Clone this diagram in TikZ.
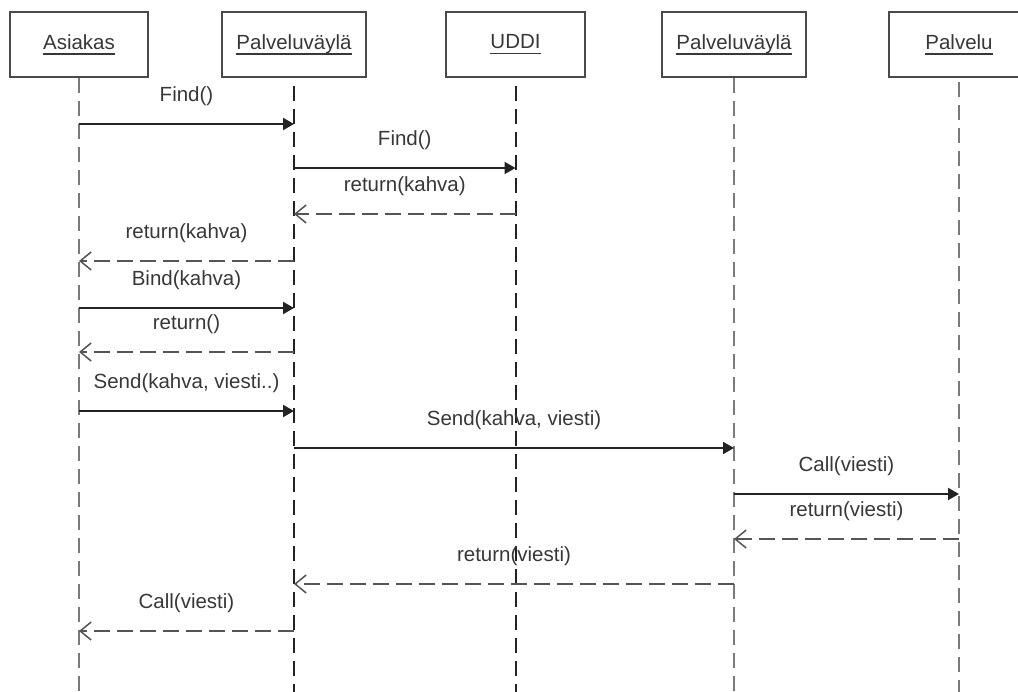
\documentclass[tikz,border=0pt]{standalone}
\usepackage{fontspec}
\setmainfont{Liberation Sans}
\usetikzlibrary{arrows.meta}
\definecolor{ink}{HTML}{383838}
\definecolor{frame}{HTML}{4A4A4A}
\definecolor{lifegrey}{HTML}{7A7A7A}
\definecolor{lifedark}{HTML}{222222}
\definecolor{retgrey}{HTML}{555555}
% underlined participant name: a rule a little below the baseline
\newcommand\ulname[1]{\setbox0\hbox{#1}\rlap{\vrule height -4pt depth 5.6pt width \wd0}\box0}
\begin{document}
\begin{tikzpicture}[x=1pt,y=-1pt,
  font=\fontsize{20.5}{24}\selectfont,
  actor/.style={draw=frame, line width=2pt, fill=white, minimum height=65pt,
    inner sep=0pt, text=ink},
  life/.style={line width=2pt, dash pattern=on 15pt off 8pt},
  call/.style={line width=2.1pt, draw=lifedark,
    -{Triangle[length=11pt,width=12pt]}},
  reply/.style={line width=2.1pt, draw=retgrey, dash pattern=on 16pt off 7pt,
    -{Straight Barb[length=11pt,width=18pt,line width=1.5pt]}},
  lbl/.style={midway, yshift=28pt, text=ink, inner sep=0pt}]
\useasboundingbox (0,0) rectangle (1018,692);
\clip (0,0) rectangle (1018,692);
\fill[white] (0,0) rectangle (1018,692);

% participants
\node[actor, minimum width=138pt] (a) at (79,44.5)    {\ulname{Asiakas}};
\node[actor, minimum width=144pt] (b) at (294,44.5)   {\ulname{Palveluväylä}};
\node[actor, minimum width=139pt] (c) at (515.5,44.5) {\ulname{UDDI}};
\node[actor, minimum width=144pt] (d) at (734,44.5)   {\ulname{Palveluväylä}};
\node[actor, minimum width=140pt] (e) at (959,44.5)   {\ulname{Palvelu}};

% lifelines
\draw[life, lifegrey] (a.south) -- (a.south |- 0,692);
\draw[life, lifedark] (b.south) ++(0,8) -- (b.south |- 0,692);
\draw[life, lifedark] (c.south) ++(0,8) -- (c.south |- 0,692);
\draw[life, lifegrey] (d.south) -- (d.south |- 0,692);
\draw[life, lifegrey] (e.south) ++(0,4) -- (e.south |- 0,692);

% messages
\draw[call]  (a.south |- 0,124) -- node[lbl]{Find()} (b.south |- 0,124);
\draw[call]  (b.south |- 0,168) -- node[lbl]{Find()} (c.south |- 0,168);
\draw[reply] (c.south |- 0,214) -- node[lbl]{return(kahva)} (b.south |- 0,214);
\draw[reply] (b.south |- 0,261) -- node[lbl]{return(kahva)} (a.south |- 0,261);
\draw[call]  (a.south |- 0,308) -- node[lbl]{Bind(kahva)} (b.south |- 0,308);
\draw[reply] (b.south |- 0,352) -- node[lbl]{return()} (a.south |- 0,352);
\draw[call]  (a.south |- 0,411) -- node[lbl]{Send(kahva, viesti..)} (b.south |- 0,411);
\draw[call]  (b.south |- 0,448) -- node[lbl]{Send(kahva, viesti)} (d.south |- 0,448);
\draw[call]  (d.south |- 0,494) -- node[lbl]{Call(viesti)} (e.south |- 0,494);
\draw[reply] (e.south |- 0,539) -- node[lbl]{return(viesti)} (d.south |- 0,539);
\draw[reply] (d.south |- 0,584) -- node[lbl]{return(viesti)} (b.south |- 0,584);
\draw[reply] (b.south |- 0,631) -- node[lbl]{Call(viesti)} (a.south |- 0,631);
\end{tikzpicture}
\end{document}
